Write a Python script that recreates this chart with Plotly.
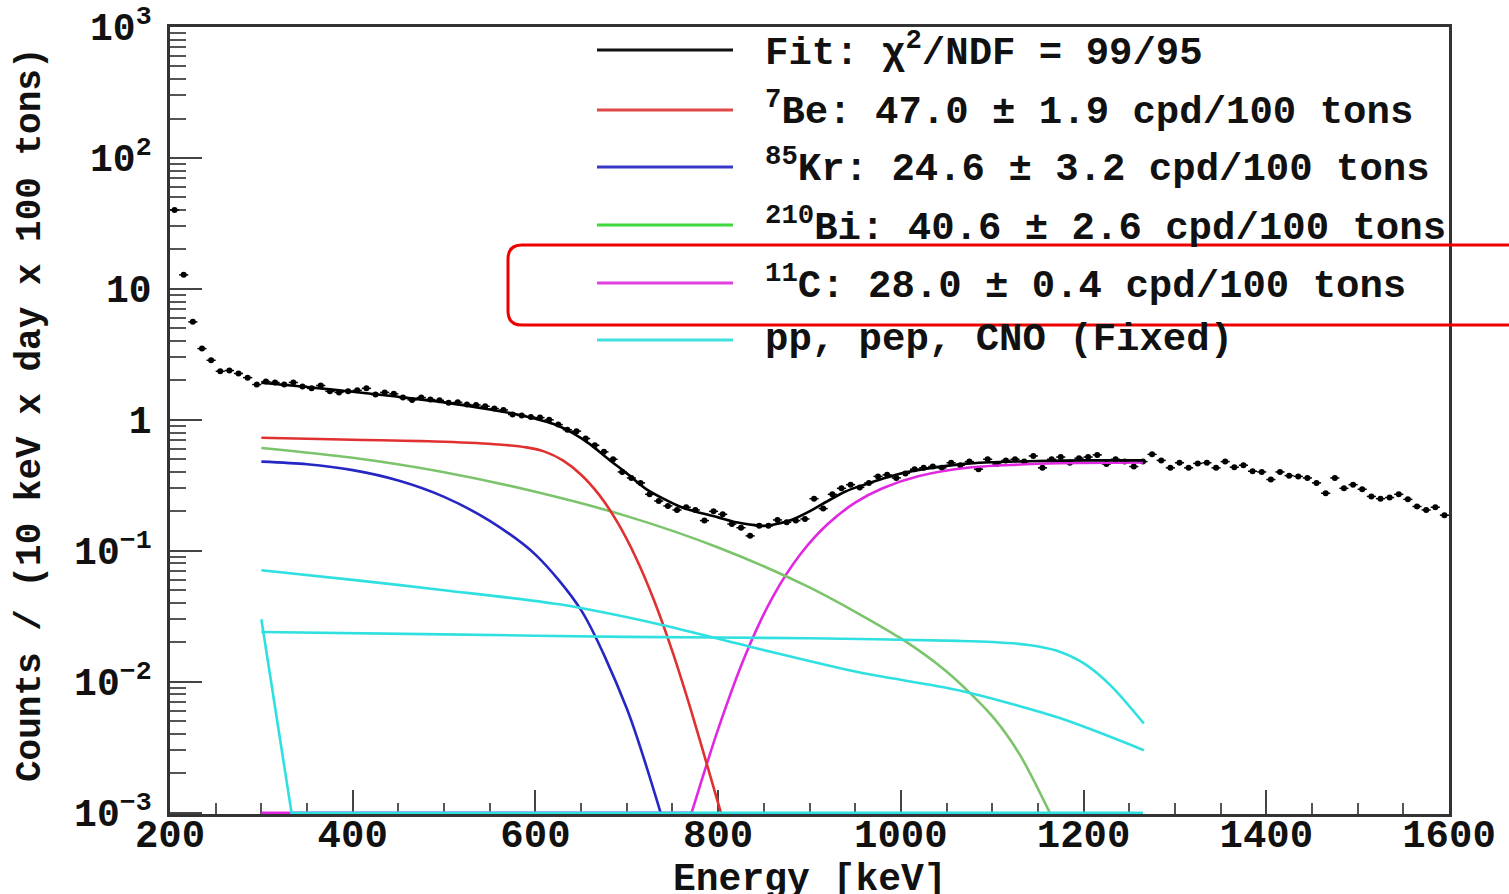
import plotly.graph_objects as go

# ---------------- data ----------------
energy = list(range(205, 1600, 10))  # bin centres, keV
counts = [
    40, 12.8, 5.6, 3.5, 2.85, 2.35, 2.38, 2.26, 2.1, 1.86,
    1.96, 1.93, 1.86, 1.93, 1.8, 1.74, 1.83, 1.65, 1.62, 1.65,
    1.68, 1.74, 1.56, 1.62, 1.58, 1.48, 1.42, 1.48, 1.43, 1.41,
    1.35, 1.36, 1.31, 1.3, 1.27, 1.22, 1.19, 1.1, 1.08, 1.05,
    1.04, 1.0, 0.92, 0.84, 0.82, 0.72, 0.64, 0.57, 0.5, 0.4,
    0.36, 0.33, 0.27, 0.24, 0.22, 0.205, 0.215, 0.205, 0.17, 0.2,
    0.19, 0.16, 0.15, 0.13, 0.155, 0.155, 0.172, 0.165, 0.17, 0.175,
    0.25, 0.21, 0.27, 0.3, 0.32, 0.305, 0.33, 0.37, 0.38, 0.36,
    0.39, 0.42, 0.43, 0.44, 0.43, 0.47, 0.45, 0.48, 0.42, 0.5,
    0.46, 0.49, 0.5, 0.48, 0.53, 0.43, 0.5, 0.52, 0.47, 0.51,
    0.52, 0.54, 0.46, 0.5, 0.48, 0.44, 0.48, 0.545, 0.49, 0.43,
    0.47, 0.43, 0.465, 0.47, 0.43, 0.48, 0.435, 0.45, 0.405, 0.40,
    0.35, 0.40, 0.375, 0.37, 0.36, 0.33, 0.275, 0.36, 0.30, 0.32,
    0.295, 0.26, 0.25, 0.255, 0.27, 0.247, 0.218, 0.205, 0.215, 0.187,
]

fit_e = [300, 350, 400, 450, 500, 550, 580, 600, 620, 640, 660, 680, 700, 720, 740,
         760, 780, 800, 820, 840, 850, 860, 880, 900, 920, 940, 960, 980, 1000,
         1020, 1050, 1075, 1100, 1150, 1200, 1265]
fit_v = [1.92, 1.78, 1.64, 1.50, 1.36, 1.20, 1.10, 1.02, 0.93, 0.80, 0.65, 0.50, 0.39,
         0.30, 0.25, 0.215, 0.195, 0.18, 0.165, 0.157, 0.155, 0.158, 0.172, 0.20,
         0.24, 0.285, 0.32, 0.355, 0.39, 0.415, 0.445, 0.465, 0.475, 0.485, 0.49, 0.49]

be7_e = [300, 400, 500, 560, 590, 610, 630, 650, 670, 690, 710, 730, 750, 770, 790, 803]
be7_v = [0.730, 0.705, 0.681, 0.649, 0.616, 0.572, 0.490, 0.381, 0.266, 0.164,
         0.0886, 0.0416, 0.0170, 0.00616, 0.00206, 0.001]

kr85_e = [300, 350, 400, 450, 500, 550, 600, 650, 700, 737]
kr85_v = [0.480, 0.458, 0.413, 0.344, 0.258, 0.169, 0.0935, 0.0352, 0.00625, 0.001]

bi210_e = [300, 400, 500, 600, 700, 800, 900, 1000, 1050, 1100, 1130, 1163]
bi210_v = [0.610, 0.513, 0.398, 0.282, 0.184, 0.106, 0.0525, 0.0214, 0.01195,
           0.00546, 0.00279, 0.001]

c11_floor_e = [300, 771]
c11_floor_v = [0.001, 0.001]
c11_e = [771, 800, 830, 860, 890, 920, 950, 980, 1020, 1075, 1120, 1173, 1265]
c11_v = [0.001, 0.00435, 0.0161, 0.0447, 0.094, 0.160, 0.233, 0.300, 0.372, 0.432,
         0.452, 0.466, 0.472]

pp_e = [300, 333, 1265]
pp_v = [0.030, 0.001, 0.001]

pep_e = [300, 500, 700, 900, 1063, 1100, 1140, 1170, 1200, 1230, 1266]
pep_v = [0.024, 0.023, 0.022, 0.0215, 0.0205, 0.0201, 0.0191, 0.0173, 0.01385,
         0.0093, 0.0048]

cno_e = [300, 400, 500, 626, 735, 845, 954, 1063, 1173, 1266]
cno_v = [0.071, 0.060, 0.050, 0.039, 0.0275, 0.0178, 0.0118, 0.0086, 0.0053, 0.0030]

x_ticks = [200, 400, 600, 800, 1000, 1200, 1400, 1600]
x_minor = [250, 300, 350, 450, 500, 550, 650, 700, 750, 850, 900, 950,
           1050, 1100, 1150, 1250, 1300, 1350, 1450, 1500, 1550]
y_ticks = [1e-3, 1e-2, 1e-1, 1, 10, 100, 1000]
y_ticktext = ["10<sup>−3</sup>", "10<sup>−2</sup>", "10<sup>−1</sup>", "1", "10",
              "10<sup>2</sup>", "10<sup>3</sup>"]
y_minor = [m * d for d in [1e-3, 1e-2, 1e-1, 1, 10, 100] for m in range(2, 10)]

legend_labels = [
    "Fit: χ<sup>2</sup>/NDF = 99/95",
    "<sup>7</sup>Be: 47.0 ± 1.9 cpd/100 tons",
    "<sup>85</sup>Kr: 24.6 ± 3.2 cpd/100 tons",
    "<sup>210</sup>Bi: 40.6 ± 2.6 cpd/100 tons",
    "<sup>11</sup>C: 28.0 ± 0.4 cpd/100 tons",
    "pp, pep, CNO (Fixed)",
]
legend_colors = ["#111111", "#e04848", "#3838c8", "#3cd83c", "#e040e0", "#40e0e0"]

# ---------------- layout geometry ----------------
W, H = 1509, 894
L, R, T, B = 170, 60, 27, 80
PW, PH = W - L - R, H - T - B
FONT = "Liberation Mono, Courier New, monospace"


def px(x):
    return (x - L) / PW


def py(y):
    return (H - B - y) / PH


RED, BLUE, GREEN, MAG, CYAN = "#e03030", "#2626c4", "#7cc46c", "#e028e0", "#30e0e0"

fig = go.Figure()
fig.add_trace(go.Scatter(x=energy, y=counts, mode="markers",
                         marker=dict(color="black", size=6),
                         error_x=dict(type="constant", value=5, color="black",
                                      thickness=1.5, width=0)))
lw = 2.6
curves = [
    (c11_floor_e, c11_floor_v, MAG, "linear"),
    (c11_e, c11_v, MAG, "spline"),
    (bi210_e, bi210_v, GREEN, "spline"),
    (kr85_e, kr85_v, BLUE, "spline"),
    (be7_e, be7_v, RED, "spline"),
    (cno_e, cno_v, CYAN, "spline"),
    (pep_e, pep_v, CYAN, "spline"),
    (pp_e, pp_v, CYAN, "linear"),
    (fit_e, fit_v, "black", "spline"),
]
for xe, yv, col, shp in curves:
    line = dict(color=col, width=lw, shape=shp)
    if shp == "spline":
        line["smoothing"] = 0.8
    fig.add_trace(go.Scatter(x=xe, y=yv, mode="lines", line=line))

shapes = []
annotations = []
rows_y = [50, 110, 167, 225, 283, 340]
for lab, col, yy in zip(legend_labels, legend_colors, rows_y):
    shapes.append(dict(type="line", xref="paper", yref="paper",
                       x0=px(597), x1=px(733), y0=py(yy), y1=py(yy),
                       line=dict(color=col, width=3)))
    annotations.append(dict(xref="paper", yref="paper", x=px(763), y=py(yy),
                            xanchor="left", yanchor="middle", showarrow=False,
                            text=lab, font=dict(family=FONT, size=39, color="#111111",
                                                weight="bold")))

# red rounded highlight box
bx0, bx1, by0, by1, r = 508, 1540, 245, 325, 14
rx, ry = r / PW, r / PH
path = (f"M {px(bx0)+rx},{py(by0)} L {px(bx1)},{py(by0)} L {px(bx1)},{py(by1)} "
        f"L {px(bx0)+rx},{py(by1)} Q {px(bx0)},{py(by1)} {px(bx0)},{py(by1)+ry} "
        f"L {px(bx0)},{py(by0)-ry} Q {px(bx0)},{py(by0)} {px(bx0)+rx},{py(by0)} Z")
shapes.append(dict(type="path", xref="paper", yref="paper", path=path,
                   line=dict(color="#ee0000", width=3)))

annotations.append(dict(xref="paper", yref="paper", x=px(30), y=py(415),
                        textangle=-90, showarrow=False, xanchor="center", yanchor="middle",
                        text="Counts / (10 keV x day x 100 tons)",
                        font=dict(family=FONT, size=36, color="#111111", weight="bold")))
annotations.append(dict(xref="paper", yref="paper", x=px(810), y=py(880),
                        showarrow=False, xanchor="center", yanchor="middle",
                        text="Energy [keV]",
                        font=dict(family=FONT, size=38, color="#111111", weight="bold")))

axis_common = dict(showline=True, linecolor="#333333", linewidth=2.5, mirror=True,
                   showgrid=False, zeroline=False, ticks="inside", tickcolor="#444444",
                   layer="below traces", automargin=False)
fig.update_layout(
    width=W, height=H, margin=dict(l=L, r=R, t=T, b=B, autoexpand=False),
    paper_bgcolor="white", plot_bgcolor="white", showlegend=False,
    xaxis=dict(range=[200, 1600], tickvals=x_ticks, ticklen=24, tickwidth=2,
               ticklabelstandoff=-17,
               tickfont=dict(family=FONT, size=39, color="#111111", weight="bold"),
               minor=dict(tickvals=x_minor, ticks="inside", ticklen=11, tickwidth=1.5,
                          tickcolor="#555555"),
               **axis_common),
    yaxis=dict(type="log", range=[-3.01, 3], tickvals=y_ticks, ticktext=y_ticktext,
               ticklen=32, tickwidth=2, ticklabelstandoff=8,
               tickfont=dict(family=FONT, size=38, color="#111111", weight="bold"),
               minor=dict(tickvals=y_minor, ticks="inside", ticklen=16, tickwidth=1.5,
                          tickcolor="#555555"),
               **axis_common),
    shapes=shapes, annotations=annotations,
)
fig.write_html("out.html")
